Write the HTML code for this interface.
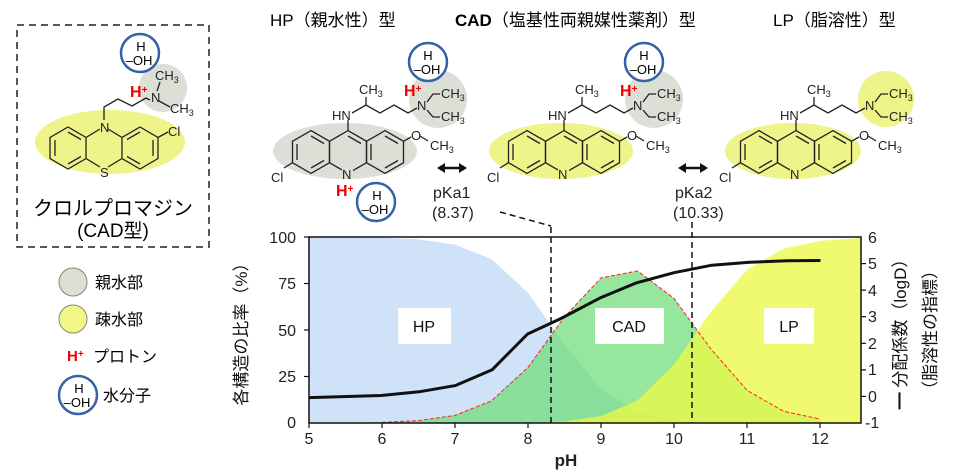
<!DOCTYPE html>
<html><head><meta charset="utf-8"><style>
body{margin:0;background:#fff}
svg{display:block;font-family:"Liberation Sans","Noto Sans CJK JP",sans-serif}
</style></head><body>
<svg width="960" height="475" viewBox="0 0 960 475" xmlns="http://www.w3.org/2000/svg">
<defs>
<g id="ring" fill="none" stroke="#222" stroke-width="1.3">
<polygon points="311,130.6 329.5,141.3 329.5,162.7 311,173.4 292.5,162.7 292.5,141.3"/>
<polygon points="348,130.6 366.5,141.3 366.5,162.7 348,173.4 329.5,162.7 329.5,141.3"/>
<polygon points="385,130.6 403.5,141.3 403.5,162.7 385,173.4 366.5,162.7 366.5,141.3"/>
<line x1="297" y1="144" x2="297" y2="160"/><line x1="311" y1="136" x2="324" y2="143.5"/><line x1="311" y1="168" x2="324" y2="160.5"/>
<line x1="348" y1="136" x2="361" y2="143.5"/><line x1="371" y1="144" x2="371" y2="160"/>
<line x1="385" y1="136" x2="398" y2="143.5"/><line x1="385" y1="168" x2="398" y2="160.5"/>
<line x1="292.5" y1="162.7" x2="284" y2="168"/>
<line x1="403.5" y1="141.3" x2="411" y2="137"/><line x1="420" y1="136" x2="428" y2="141"/>
<line x1="348" y1="130.6" x2="348" y2="120"/>
<polyline points="352,113 366,105 380,113 394,105 408,113 417,108"/>
<line x1="366" y1="105" x2="366" y2="97"/>
<polyline points="427,102 433,94 440,94"/><polyline points="427,110 433,117 440,117"/>
</g>
</defs>

<text x="270" y="26" font-size="17">HP（親水性）型</text>
<text x="455" y="26" font-size="17"><tspan font-weight="bold">CAD</tspan>（塩基性両親媒性薬剤）型</text>
<text x="773" y="26" font-size="17">LP（脂溶性）型</text>

<!-- molecule 1 -->
<ellipse cx="345" cy="151" rx="72" ry="28" fill="#dcdfd5"/>
<circle cx="438" cy="99" r="29" fill="#dcdfd5"/>
<use href="#ring"/>
<g font-size="13" fill="#222">
<text x="332" y="120">HN</text><text x="359" y="94">CH<tspan font-size="9" dy="3">3</tspan></text>
<text x="417" y="110">N</text><text x="441" y="98">CH<tspan font-size="9" dy="3">3</tspan></text><text x="441" y="121">CH<tspan font-size="9" dy="3">3</tspan></text>
<text x="411" y="140">O</text><text x="430" y="150">CH<tspan font-size="9" dy="3">3</tspan></text>
<text x="271" y="182">Cl</text><rect x="342" y="168" width="11" height="11" fill="#dcdfd5"/><text x="342" y="179">N</text>
</g>
<text x="404" y="96" font-size="16" font-weight="bold" fill="#e00">H<tspan font-size="10" dy="-4">+</tspan></text>
<text x="336" y="196" font-size="16" font-weight="bold" fill="#e00">H<tspan font-size="10" dy="-4">+</tspan></text>
<circle cx="428" cy="62" r="19" fill="#fff" stroke="#3563a4" stroke-width="2.5"/>
<text x="428" y="60" font-size="13" text-anchor="middle">H</text><text x="427" y="74" font-size="13" text-anchor="middle">–OH</text>
<circle cx="376" cy="202" r="19" fill="#fff" stroke="#3563a4" stroke-width="2.5"/>
<text x="377" y="200" font-size="13" text-anchor="middle">H</text><text x="375" y="214" font-size="13" text-anchor="middle">–OH</text>

<!-- molecule 2 -->
<g transform="translate(216,0)">
<ellipse cx="345" cy="151" rx="72" ry="28" fill="#eef38a"/>
<circle cx="438" cy="99" r="29" fill="#dcdfd5"/>
<use href="#ring"/>
<g font-size="13" fill="#222">
<text x="332" y="120">HN</text><text x="359" y="94">CH<tspan font-size="9" dy="3">3</tspan></text>
<text x="417" y="110">N</text><text x="441" y="98">CH<tspan font-size="9" dy="3">3</tspan></text><text x="441" y="121">CH<tspan font-size="9" dy="3">3</tspan></text>
<text x="411" y="140">O</text><text x="430" y="150">CH<tspan font-size="9" dy="3">3</tspan></text>
<text x="271" y="182">Cl</text><rect x="342" y="168" width="11" height="11" fill="#eef38a"/><text x="342" y="179">N</text>
</g>
<text x="404" y="96" font-size="16" font-weight="bold" fill="#e00">H<tspan font-size="10" dy="-4">+</tspan></text>
<circle cx="428" cy="62" r="19" fill="#fff" stroke="#3563a4" stroke-width="2.5"/>
<text x="428" y="60" font-size="13" text-anchor="middle">H</text><text x="427" y="74" font-size="13" text-anchor="middle">–OH</text>
</g>

<!-- molecule 3 -->
<g transform="translate(448,0)">
<ellipse cx="345" cy="151" rx="68" ry="28" fill="#eef38a"/>
<circle cx="438" cy="99" r="28" fill="#eef38a"/>
<use href="#ring"/>
<g font-size="13" fill="#222">
<text x="332" y="120">HN</text><text x="359" y="94">CH<tspan font-size="9" dy="3">3</tspan></text>
<text x="417" y="110">N</text><text x="441" y="98">CH<tspan font-size="9" dy="3">3</tspan></text><text x="441" y="121">CH<tspan font-size="9" dy="3">3</tspan></text>
<text x="411" y="140">O</text><text x="430" y="150">CH<tspan font-size="9" dy="3">3</tspan></text>
<text x="271" y="182">Cl</text><rect x="342" y="168" width="11" height="11" fill="#eef38a"/><text x="342" y="179">N</text>
</g>
</g>

<g stroke="#111" stroke-width="2.5"><line x1="442" y1="168" x2="462" y2="168"/><line x1="683" y1="168" x2="703" y2="168"/></g>
<g fill="#111"><polygon points="437,168 445,163 445,173"/><polygon points="467,168 459,163 459,173"/><polygon points="678,168 686,163 686,173"/><polygon points="708,168 700,163 700,173"/></g>
<g font-size="16" fill="#222"><text x="433" y="198">pKa1</text><text x="432" y="218">(8.37)</text><text x="675" y="198">pKa2</text><text x="673" y="218">(10.33)</text></g>

<!-- left box -->
<rect x="17" y="25" width="192" height="222" fill="none" stroke="#222" stroke-width="1.5" stroke-dasharray="7,5"/>
<ellipse cx="110" cy="142" rx="75" ry="32" fill="#eef38a"/>
<circle cx="163" cy="88" r="24" fill="#dcdfd5"/>
<g fill="none" stroke="#222" stroke-width="1.3">
<polygon points="68,127 86,137.5 86,158.5 68,169 50,158.5 50,137.5"/>
<polygon points="140,127 158,137.5 158,158.5 140,169 122,158.5 122,137.5"/>
<polyline points="86,137.5 100,129"/><polyline points="108,129 122,137.5"/><polyline points="86,158.5 100,167"/><polyline points="108,167 122,158.5"/>
<line x1="55" y1="140" x2="55" y2="156"/><line x1="68" y1="164" x2="81" y2="156.5"/><line x1="68" y1="132" x2="81" y2="139.5"/>
<line x1="153" y1="140" x2="153" y2="156"/><line x1="140" y1="164" x2="127" y2="156.5"/><line x1="140" y1="132" x2="127" y2="139.5"/>
<line x1="158" y1="137.5" x2="168" y2="132"/>
<polyline points="104,120 104,107 118,99 132,106 146,98 150,100"/>
<line x1="157" y1="91" x2="160" y2="82"/><line x1="159" y1="101" x2="170" y2="107"/>
</g>
<g font-size="13" fill="#222"><text x="100" y="132">N</text><text x="100" y="177">S</text><text x="168" y="136">Cl</text>
<text x="151" y="102">N</text><text x="155" y="80">CH<tspan font-size="9" dy="3">3</tspan></text><text x="170" y="113">CH<tspan font-size="9" dy="3">3</tspan></text></g>
<text x="130" y="97" font-size="16" font-weight="bold" fill="#e00">H<tspan font-size="10" dy="-4">+</tspan></text>
<circle cx="140" cy="53" r="19" fill="#fff" stroke="#3563a4" stroke-width="2.5"/>
<text x="141" y="51" font-size="13" text-anchor="middle">H</text><text x="139" y="65" font-size="13" text-anchor="middle">–OH</text>
<text x="113" y="215" font-size="20" text-anchor="middle">クロルプロマジン</text>
<text x="113" y="237" font-size="19" text-anchor="middle">(CAD型)</text>

<!-- legend -->
<circle cx="73" cy="282" r="14" fill="#dcdfd5" stroke="#8a8670" stroke-width="1"/>
<text x="95" y="288" font-size="16">親水部</text>
<circle cx="73" cy="319" r="14" fill="#f3f78a" stroke="#8a8670" stroke-width="1"/>
<text x="95" y="325" font-size="16">疎水部</text>
<text x="67" y="361" font-size="15" font-weight="bold" fill="#e00">H<tspan font-size="10" dy="-4">+</tspan></text>
<text x="93" y="362" font-size="16">プロトン</text>
<circle cx="78" cy="395" r="19" fill="#fff" stroke="#3563a4" stroke-width="2.5"/>
<text x="79" y="393" font-size="13" text-anchor="middle">H</text><text x="77" y="407" font-size="13" text-anchor="middle">–OH</text>
<text x="103" y="401" font-size="16">水分子</text>

<!-- chart -->
<svg x="309" y="237" width="552" height="186" viewBox="309 237 552 186" overflow="hidden">
<polygon fill="#cfe2f8" points="309,237 382,237.7 418.5,239.4 455,244.6 491.5,259.1 528,292.8 564.5,344.5 601,389 637.5,411.7 674,420 710.5,422.4 747,423 309,423"/>
<polygon fill="rgba(110,220,120,0.72)" points="309,423 382,422.3 418.5,420.6 455,415.4 491.5,400.9 528,367.4 564.5,317 601,277.9 637.5,270.9 674,298.4 710.5,348.6 747,390.3 783.5,411.3 820,419.1 820,423"/>
<polygon fill="rgba(235,248,70,0.78)" points="528,423 564.5,421.5 601,416.1 637.5,400.5 674,364.6 710.5,312.3 747,269.7 783.5,248.7 820,240.9 856.5,238.3 861,238 861,423"/>
<polyline fill="none" stroke="#f22" stroke-width="1" stroke-dasharray="4,2" points="382,422.3 418.5,420.6 455,415.4 491.5,400.9 528,367.4 564.5,317 601,277.9 637.5,270.9 674,298.4 710.5,348.6 747,390.3 783.5,411.3 820,419.1"/>
</svg>
<g font-size="16" fill="#111">
<rect x="398" y="308" width="53" height="36" fill="#fff"/><text x="424" y="332" text-anchor="middle">HP</text>
<rect x="595" y="308" width="69" height="36" fill="#fff"/><text x="629" y="332" text-anchor="middle">CAD</text>
<rect x="764" y="308" width="50" height="36" fill="#fff"/><text x="789" y="332" text-anchor="middle">LP</text>
</g>
<polyline fill="none" stroke="#111" stroke-width="3" points="309.4,397.6 381.2,395.5 419,391.8 455.3,385.6 492.2,369.7 527.6,334 560.7,318.6 600.8,297.6 636.2,282.9 674,272.7 711.8,265.2 749.6,262.2 787.4,260.8 820.5,260.5"/>
<g stroke="#111" stroke-width="1.5" stroke-dasharray="6,4" fill="none">
<line x1="551" y1="227" x2="551" y2="423"/><polyline points="500,212 551,226"/>
<line x1="692" y1="222" x2="692" y2="423"/>
</g>
<rect x="309" y="237" width="552" height="186" fill="none" stroke="#111" stroke-width="1.5"/>
<g stroke="#111" stroke-width="1.2">
<line x1="304" y1="237" x2="309" y2="237"/><line x1="304" y1="283.5" x2="309" y2="283.5"/><line x1="304" y1="330" x2="309" y2="330"/><line x1="304" y1="376.5" x2="309" y2="376.5"/>
<line x1="309" y1="423" x2="309" y2="428"/><line x1="382" y1="423" x2="382" y2="428"/><line x1="455" y1="423" x2="455" y2="428"/><line x1="528" y1="423" x2="528" y2="428"/><line x1="601" y1="423" x2="601" y2="428"/><line x1="674" y1="423" x2="674" y2="428"/><line x1="747" y1="423" x2="747" y2="428"/><line x1="820" y1="423" x2="820" y2="428"/>
<line x1="861" y1="263.6" x2="866" y2="263.6"/><line x1="861" y1="290.1" x2="866" y2="290.1"/><line x1="861" y1="316.7" x2="866" y2="316.7"/><line x1="861" y1="343.3" x2="866" y2="343.3"/><line x1="861" y1="369.9" x2="866" y2="369.9"/><line x1="861" y1="396.4" x2="866" y2="396.4"/>
</g>
<g font-size="16" fill="#222" text-anchor="end">
<text x="296" y="243">100</text><text x="296" y="289">75</text><text x="296" y="336">50</text><text x="296" y="382">25</text><text x="296" y="428">0</text>
</g>
<g font-size="16" fill="#222" text-anchor="middle">
<text x="309" y="444">5</text><text x="382" y="444">6</text><text x="455" y="444">7</text><text x="528" y="444">8</text><text x="601" y="444">9</text><text x="674" y="444">10</text><text x="747" y="444">11</text><text x="820" y="444">12</text>
<text x="566" y="466" font-weight="bold" font-size="17">pH</text>
</g>
<g font-size="16" fill="#222">
<text x="868" y="243">6</text><text x="868" y="269">5</text><text x="868" y="296">4</text><text x="868" y="322">3</text><text x="868" y="349">2</text><text x="868" y="375">1</text><text x="868" y="402">0</text><text x="865" y="428">-1</text>
</g>
<text transform="translate(247,330) rotate(-90)" font-size="17" text-anchor="middle" fill="#111">各構造の比率（%）</text>
<text transform="translate(906,330) rotate(-90)" font-size="17" text-anchor="middle" fill="#111">━ 分配係数（logD）</text>
<text transform="translate(936,330) rotate(-90)" font-size="17" text-anchor="middle" fill="#111">（脂溶性の指標）</text>
</svg>
</body></html>
